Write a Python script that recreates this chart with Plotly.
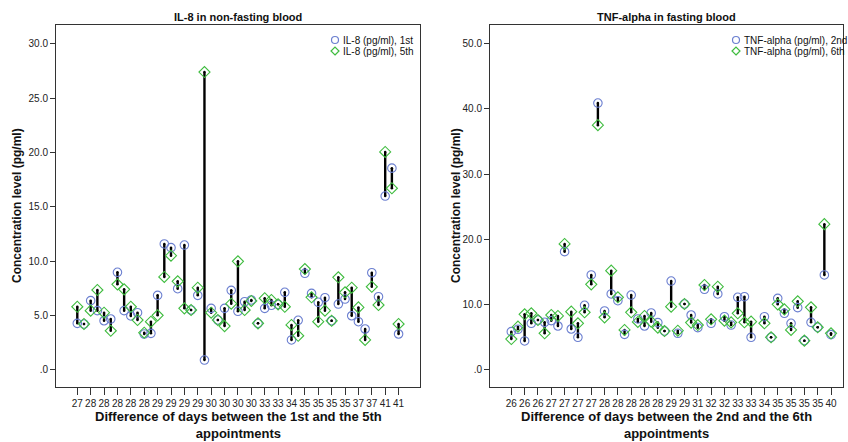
import plotly.graph_objects as go

W, H = 848, 442

# ---- data ----
il8_tick_labels = ["27", "28", "28", "28", "28", "28", "29", "29", "29", "29", "30", "30", "30",
                   "30", "33", "33", "34", "35", "35", "35", "35", "37", "37", "41", "41"]
il8_1st = [4.26, 4.2, 6.35, 5.43, 4.5, 4.66, 8.96, 5.43, 4.94, 5.24, 3.28, 3.34, 6.84, 11.57,
           11.23, 7.45, 11.47, 5.49, 6.84, 0.88, 5.64, 4.57, 5.64, 7.3, 5.37, 6.25, 6.41, 4.26,
           5.64, 5.92, 6.01, 7.12, 2.73, 4.54, 8.87, 7.02, 6.2, 6.62, 4.5, 6.04, 6.5, 4.96, 4.41,
           3.74, 8.92, 6.71, 15.98, 18.55, 3.28]
il8_5th = [5.79, 4.2, 5.43, 7.33, 5.24, 3.58, 7.85, 7.39, 5.79, 4.57, 3.4, 4.41, 5.0, 8.53,
           10.49, 8.13, 5.64, 5.49, 7.54, 27.4, 5.24, 4.57, 4.01, 6.07, 9.97, 5.49, 6.32, 4.26,
           6.57, 6.41, 6.01, 5.79, 4.11, 3.12, 9.26, 6.66, 4.41, 5.43, 4.5, 8.5, 7.12, 7.54, 5.73,
           2.73, 7.63, 5.95, 20.04, 16.7, 4.2]

tnf_tick_labels = ["26", "26", "26", "27", "27", "27", "27", "28", "28", "28", "28", "28", "29",
                   "29", "31", "32", "32", "33", "33", "34", "35", "35", "35", "35", "40"]
tnf_2nd = [5.78, 6.14, 4.35, 7.07, 7.57, 7.22, 7.47, 6.65, 18.07, 6.19, 4.92, 9.83, 14.49, 40.9,
           8.96, 11.57, 10.54, 5.37, 11.41, 7.73, 6.65, 8.65, 7.17, 5.88, 13.56, 5.53, 10.03, 8.34,
           6.4, 12.29, 7.07, 11.57, 8.08, 6.8, 11.06, 11.15, 4.92, None, 8.08, 4.92, 10.9, 8.6,
           7.07, 9.47, 4.4, 7.22, 6.45, 14.49, 5.32]
tnf_6th = [4.65, 6.55, 8.45, 8.6, 7.57, 5.53, 8.34, 8.19, 19.25, 8.85, 7.07, 8.76, 13.05, 37.5,
           7.98, 15.15, 11.06, 6.04, 8.76, 7.27, 8.19, 7.32, 6.4, 5.88, 9.62, 5.93, 10.03, 7.17,
           6.8, 12.95, 7.68, 12.69, 7.47, 7.2, 8.6, 7.22, 7.32, None, 7.07, 4.92, 9.98, 9.2, 6.04,
           10.45, 4.4, 9.52, 6.45, 22.3, 5.53]

il8_names = ["IL-8 (pg/ml), 1st", "IL-8 (pg/ml), 5th"]
tnf_names = ["TNF-alpha (pg/ml), 2nd", "TNF-alpha (pg/ml), 6th"]

BLUE = "#6b7fd0"
GREEN = "#3fbc3f"
FONT = "Liberation Sans, Arial, sans-serif"

fig = go.Figure()


def add_panel(a, b, names, xa, ya):
    n = len(a)
    xs = list(range(n))
    lx, ly = [], []
    for i in xs:
        if a[i] is None or b[i] is None:
            continue
        lx += [i, i, None]
        ly += [a[i], b[i], None]
    fig.add_trace(go.Scatter(x=lx, y=ly, mode="lines", xaxis=xa, yaxis=ya,
                             line=dict(color="black", width=2.4), showlegend=False,
                             hoverinfo="skip"))
    dx = [i for i in xs if a[i] is not None]
    fig.add_trace(go.Scatter(x=dx + dx, y=[a[i] for i in dx] + [b[i] for i in dx],
                             mode="markers", xaxis=xa, yaxis=ya, showlegend=False,
                             marker=dict(symbol="circle", size=2.5, color="black"),
                             hoverinfo="skip"))
    fig.add_trace(go.Scatter(x=xs, y=a, mode="markers", name=names[0], xaxis=xa, yaxis=ya,
                             showlegend=False,
                             marker=dict(symbol="circle-open", size=8.5, color=BLUE,
                                         line=dict(width=1.1, color=BLUE))))
    fig.add_trace(go.Scatter(x=xs, y=b, mode="markers", name=names[1], xaxis=xa, yaxis=ya,
                             showlegend=False,
                             marker=dict(symbol="diamond-open", size=8.5, color=GREEN,
                                         line=dict(width=1.1, color=GREEN))))


add_panel(il8_1st, il8_5th, il8_names, "x", "y")
add_panel(tnf_2nd, tnf_6th, tnf_names, "x2", "y2")

# panel geometry (pixels)
L1, R1 = 56, 420
L2, R2 = 490, 843
TOP, BOT = 25, 387


def px(v):
    return v / W


def py(v):
    return 1 - v / H


axis_common = dict(showline=True, linecolor="#333", linewidth=1, mirror=True,
                   showgrid=False, zeroline=False, ticks="outside", tickcolor="#333",
                   tickfont=dict(size=10, color="#222", family=FONT))

fig.update_layout(
    width=W, height=H, margin=dict(l=0, r=0, t=0, b=0),
    paper_bgcolor="white", plot_bgcolor="white",
    font=dict(family=FONT, color="#111"),
    xaxis=dict(domain=[px(L1), px(R1)], range=[-3.18, 51.2], tickangle=0,
               tickvals=list(range(0, 2 * len(il8_tick_labels), 2)), ticktext=il8_tick_labels,
               ticklen=7, anchor="y", **axis_common),
    yaxis=dict(domain=[py(BOT), py(TOP)], range=[-1.6, 31.73],
               tickvals=[0, 5, 10, 15, 20, 25, 30],
               ticktext=[".0", "5.0", "10.0", "15.0", "20.0", "25.0", "30.0"],
               ticklen=5, anchor="x", **axis_common),
    xaxis2=dict(domain=[px(L2), px(R2)], range=[-3.2, 49.8], tickangle=0,
                tickvals=list(range(0, 2 * len(tnf_tick_labels), 2)), ticktext=tnf_tick_labels,
                ticklen=7, anchor="y2", **axis_common),
    yaxis2=dict(domain=[py(BOT), py(TOP)], range=[-2.72, 52.89],
                tickvals=[0, 10, 20, 30, 40, 50],
                ticktext=[".0", "10.0", "20.0", "30.0", "40.0", "50.0"],
                ticklen=5, anchor="x2", **axis_common),
)

ann = []
shapes = []
titles = [("IL-8 in non-fasting blood", (L1 + R1) / 2),
          ("TNF-alpha in fasting blood", (L2 + R2) / 2)]
for t, cx in titles:
    ann.append(dict(text="<b>%s</b>" % t, x=px(cx), y=py(17), xref="paper", yref="paper",
                    showarrow=False, xanchor="center", yanchor="middle",
                    font=dict(size=11, color="#111")))

for cx in (17, 456):
    ann.append(dict(text="<b>Concentration level (pg/ml)</b>", x=px(cx), y=py((TOP + BOT) / 2),
                    xref="paper", yref="paper", showarrow=False, textangle=-90,
                    xanchor="center", yanchor="middle", font=dict(size=12, color="#111")))

xt = [("Difference of days between the 1st and the 5th<br>appointments", (L1 + R1) / 2),
      ("Difference of days between the 2nd and the 6th<br>appointments", (L2 + R2) / 2)]
for t, cx in xt:
    ann.append(dict(text="<b>%s</b>" % t, x=px(cx), y=py(425), xref="paper", yref="paper",
                    showarrow=False, xanchor="center", yanchor="middle",
                    font=dict(size=13, color="#111")))

# legends (inside upper right)
for names, mx in ((il8_names, 335), (tnf_names, 736)):
    for k, (nm, col) in enumerate(zip(names, (BLUE, GREEN))):
        cy = 40 + 11 * k
        if k == 0:
            shapes.append(dict(type="circle", xref="paper", yref="paper",
                               xsizemode="pixel", ysizemode="pixel",
                               xanchor=px(mx), yanchor=py(cy),
                               x0=-3.5, x1=3.5, y0=-3.5, y1=3.5,
                               line=dict(color=col, width=1.2)))
        else:
            shapes.append(dict(type="path", xref="paper", yref="paper",
                               xsizemode="pixel", ysizemode="pixel",
                               xanchor=px(mx), yanchor=py(cy),
                               path="M0,-4 L4,0 L0,4 L-4,0 Z",
                               line=dict(color=col, width=1.2)))
        ann.append(dict(text=nm, x=px(mx + 6), y=py(cy), xref="paper", yref="paper",
                        showarrow=False, xanchor="left", yanchor="middle",
                        font=dict(size=10, color="#111")))

fig.update_layout(annotations=ann, shapes=shapes)

fig.write_html("out.html", config={"displayModeBar": False},
               post_script="document.body.style.margin='0';")
